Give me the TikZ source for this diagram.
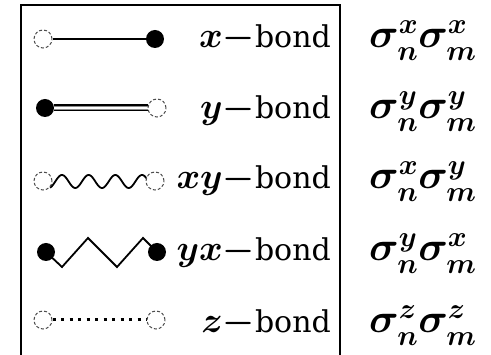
\RequirePackage{fix-cm}
\documentclass[tikz,border=0pt]{standalone}
\usepackage{amsmath}
\usepackage{fontspec}
\newfontfamily\bondfont{DejaVu Serif}
\usetikzlibrary{backgrounds}
\begin{document}
\begin{tikzpicture}[x=1pt,y=-1pt,
  opendot/.style={circle,draw=black!70,densely dashed,line width=1pt,fill=white,minimum size=18pt,inner sep=0pt},
  fulldot/.style={circle,fill=black,minimum size=18pt,inner sep=0pt},
  lbl/.style={anchor=base east,inner sep=0pt,font=\fontsize{36}{40}\selectfont\boldmath},
  term/.style={anchor=base west,inner sep=0pt,font=\fontsize{41}{46}\selectfont\boldmath},
  frame/.style={line width=2pt}]
\newcommand\bondword{\bondfont\fontsize{30}{36}\selectfont bond}
\useasboundingbox (0,0) rectangle (491,355);
\draw[frame] (21,355) -- (21,5.5) -- (340,5.5) -- (340,355);
% x-bond
\node[opendot] (xa) at (43,39) {};
\node[fulldot] (xb) at (155,39) {};
% y-bond
\node[fulldot] (ya) at (45,108) {};
\node[opendot] (yb) at (157,108) {};
% xy-bond
\node[opendot] (xya) at (43,181) {};
\node[opendot] (xyb) at (155,181) {};
% yx-bond
\node[fulldot] (yxa) at (46,252) {};
\node[fulldot] (yxb) at (157,252) {};
% z-bond
\node[opendot] (za) at (43,320) {};
\node[opendot] (zb) at (156,320) {};
\begin{scope}[on background layer]
\draw[line width=2.6pt] (xa.east) -- (xb.west);
\draw[line width=7pt] (ya.east) -- (yb.west);
\draw[line width=4.5pt,black!45] (ya.east) -- (yb.west);
\draw[line width=1.5pt,white] (ya.east) -- (yb.west);
\draw[line width=1.8pt,domain=50:148,samples=120,smooth] plot (\x,{181.5+6.5*cos(13.483*(\x-48.6))});
\draw[line width=1.8pt,line join=miter] (yxa.center) -- (62,267) -- (88,238) -- (117,267) -- (143,238) -- (yxb.center);
\draw[line width=3pt,dash pattern=on 3pt off 5.5pt] (za.east) -- (zb.west);
\end{scope}
% labels
\node[lbl] (l1) at (331,48) {$x\mathord{-}$\bondword};
\node[lbl] (l2) at (331,119) {$y\mathord{-}$\bondword};
\node[lbl] (l3) at (331,189) {$xy\mathord{-}$\bondword};
\node[lbl] (l4) at (331,261) {$yx\mathord{-}$\bondword};
\node[lbl] (l5) at (331,333) {$z\mathord{-}$\bondword};
\node[term] (t1) at (369,48) {$\sigma_n^x\sigma_m^x$};
\node[term] (t2) at (369,119) {$\sigma_n^y\sigma_m^y$};
\node[term] (t3) at (369,189) {$\sigma_n^x\sigma_m^y$};
\node[term] (t4) at (369,261) {$\sigma_n^y\sigma_m^x$};
\node[term] (t5) at (369,333) {$\sigma_n^z\sigma_m^z$};
\end{tikzpicture}
\end{document}
